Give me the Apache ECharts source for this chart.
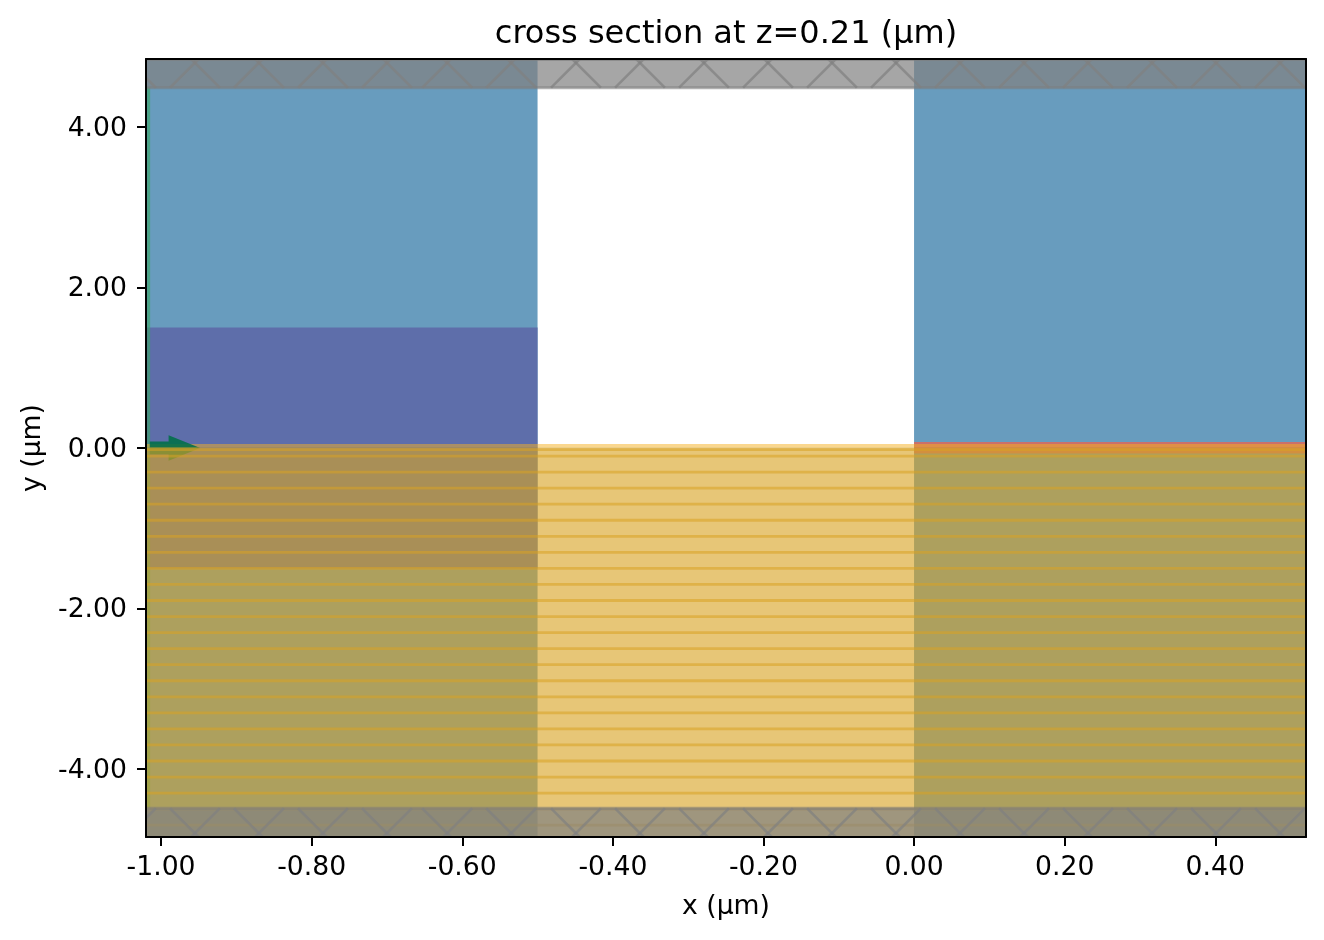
<!DOCTYPE html>
<html><head><meta charset="utf-8">
<style>html,body{margin:0;padding:0;background:#fff}#c{width:1324px;height:940px}</style>
<script src="https://cdn.jsdelivr.net/npm/echarts@6/dist/echarts.min.js"></script>
</head><body><div id="c"></div>
<script>
const xMin = -1.02, xMax = 0.5205, yMin = -4.847, yMax = 4.847;
const xTicks = [-1.0, -0.8, -0.6, -0.4, -0.2, 0, 0.2, 0.4];
const yTicks = [-4, -2, 0, 2, 4];
// Regions as [x0, x1, y0, y1] in µm
const claddingRegions = [[-1.02, -0.5, -4.85, 4.85], [0, 0.5205, -4.85, 4.85]];
const slabRegions = [[-1.02, -0.5, -1.5, 1.5]];
const metalRegions = [[0, 0.5205, -0.07, 0.075]];
const sourceRegions = [[-1.0185, -1.0145, -4.5, 4.5]];
const coatingRegions = [[-1.02, 0.5205, -4.85, 0.01]];
const coatingTopRegions = [[-1.02, 0.5205, 0.01, 0.05]];
const pmlRegions = [[-1.02, 0.5205, 4.49, 4.85], [-1.02, 0.5205, -4.85, -4.49]];
const layerLines = [-0.02, -0.1, -0.3, -0.5, -0.7, -0.9, -1.1, -1.3, -1.5, -1.7, -1.9, -2.1, -2.3, -2.5, -2.7, -2.9, -3.1, -3.3, -3.5, -3.7, -3.9, -4.1, -4.3, -4.5, -4.7];
const pmlEdges = [4.49, 4.84, -4.49];
const arrowX = [-1.015, -0.99, -0.99, -0.948, -0.99, -0.99, -1.015];
const arrowY = [0.08, 0.08, 0.16, 0, -0.16, -0.08, -0.08];
const hatchX = [-1.04, -0.955, -0.87, -0.785, -0.70, -0.62, -0.535, -0.449, -0.364, -0.279, -0.194, -0.109, -0.024, 0.061, 0.146, 0.231, 0.316, 0.401, 0.486, 0.571];
const hatchRows = [[4.8, 4.847, 4.49], [-4.8, -4.847, -4.49]];

const FONT = 'DejaVu Sans';
const pxRatio = 80.25 / 753;

function rectSeries(name, data, color, opacity, z) {
  return {
    type: 'custom', name, z, clip: true, silent: true,
    coordinateSystem: 'cartesian2d', data,
    encode: { x: [0, 1], y: [2, 3] },
    renderItem(params, api) {
      const a = api.coord([api.value(0), api.value(3)]);
      const b = api.coord([api.value(1), api.value(2)]);
      return { type: 'rect', shape: { x: a[0], y: a[1], width: b[0] - a[0], height: b[1] - a[1] },
        style: { fill: color, opacity } };
    }
  };
}
function hLineSeries(name, data, color, opacity, width, z) {
  return {
    type: 'custom', name, z, clip: true, silent: true,
    coordinateSystem: 'cartesian2d', data: data.map(v => [v]),
    encode: { y: 0 },
    renderItem(params, api) {
      const a = api.coord([xMin, api.value(0)]);
      const b = api.coord([xMax, api.value(0)]);
      return { type: 'line', shape: { x1: a[0], y1: a[1], x2: b[0], y2: b[1] },
        style: { stroke: color, opacity, lineWidth: width } };
    }
  };
}
const hatchData = [];
hatchRows.forEach(r => hatchX.forEach(x => hatchData.push([x, r[0], r[1], r[2]])));
const arrowSeries = {
  type: 'custom', name: 'source arrow', z: 4, clip: true, silent: true,
  coordinateSystem: 'cartesian2d', data: arrowX.map((x, i) => [x, arrowY[i]]),
  encode: { x: 0, y: 1 },
  renderItem(params, api) {
    if (params.dataIndex !== 0) return null;
    const points = arrowX.map((x, i) => api.coord([x, arrowY[i]]));
    return { type: 'polygon', shape: { points }, style: { fill: 'rgb(0,112,72)', opacity: 0.88 } };
  }
};
const hatchSeries = {
  type: 'custom', name: 'pml hatch', z: 9, clip: true, silent: true,
  coordinateSystem: 'cartesian2d', data: hatchData,
  encode: { x: 0, y: 1 },
  renderItem(params, api) {
    const x = api.value(0), y = api.value(1), yA = api.value(2), yB = api.value(3);
    const dA = Math.abs(yA - y) * pxRatio, dB = Math.abs(yB - y) * pxRatio;
    const p = (u, v) => api.coord([u, v]);
    const segs = [[p(x - dA, yA), p(x + dB, yB)], [p(x + dA, yA), p(x - dB, yB)]];
    return { type: 'group', children: segs.map(s => ({
      type: 'line', shape: { x1: s[0][0], y1: s[0][1], x2: s[1][0], y2: s[1][1] },
      style: { stroke: 'rgb(128,128,128)', lineWidth: 2.6, opacity: 0.7 } })) };
  }
};
const axisText = { color: '#000', fontFamily: FONT, fontSize: 26.67 };
const chart = echarts.init(document.getElementById('c'), null, { renderer: 'canvas' });
chart.setOption({
  animation: false,
  backgroundColor: '#fff',
  title: { text: 'cross section at z=0.21 (µm)', left: 721, top: 14, textAlign: 'center',
    textStyle: { color: '#000', fontFamily: FONT, fontSize: 32, fontWeight: 'normal' } },
  grid: { left: 146, top: 59, width: 1160, height: 778, containLabel: false },
  xAxis: [
    { type: 'value', min: xMin, max: xMax, position: 'bottom', z: 20,
      name: 'x (µm)', nameLocation: 'middle', nameGap: 57,
      nameTextStyle: axisText, splitLine: { show: false },
      axisLine: { show: true, onZero: false, lineStyle: { color: '#000', width: 2 } },
      axisTick: { show: true, length: 9, lineStyle: { color: '#000', width: 2 }, customValues: xTicks },
      axisLabel: { ...axisText, margin: 18, customValues: xTicks, formatter: v => v.toFixed(2) } },
    { type: 'value', min: xMin, max: xMax, position: 'top', z: 20,
      splitLine: { show: false }, axisTick: { show: false }, axisLabel: { show: false },
      axisLine: { show: true, onZero: false, lineStyle: { color: '#000', width: 2 } } }
  ],
  yAxis: [
    { type: 'value', min: yMin, max: yMax, position: 'left', z: 20,
      name: 'y (µm)', nameLocation: 'middle', nameGap: 99,
      nameTextStyle: axisText, splitLine: { show: false },
      axisLine: { show: true, onZero: false, lineStyle: { color: '#000', width: 2 } },
      axisTick: { show: true, length: 9, lineStyle: { color: '#000', width: 2 }, customValues: yTicks },
      axisLabel: { ...axisText, margin: 19, customValues: yTicks,
        formatter: v => '{a|' + v.toFixed(2) + '}',
        rich: { a: { ...axisText, padding: [4, 0, 0, 0] } } } },
    { type: 'value', min: yMin, max: yMax, position: 'right', z: 20,
      splitLine: { show: false }, axisTick: { show: false }, axisLabel: { show: false },
      axisLine: { show: true, onZero: false, lineStyle: { color: '#000', width: 2 } } }
  ],
  series: [
    rectSeries('cladding', claddingRegions, '#689cbe', 1, 1),
    rectSeries('slab', slabRegions, '#5e6eaa', 1, 2),
    rectSeries('metal', metalRegions, '#f0604a', 0.72, 3),
    rectSeries('source', sourceRegions, '#38a860', 0.6, 3),
    rectSeries('coating top', coatingTopRegions, '#f5b020', 0.5, 3.5),
    arrowSeries,
    rectSeries('coating', coatingRegions, '#d8a323', 0.62, 5),
    hLineSeries('layers', layerLines, '#d8a323', 0.55, 2.8, 6),
    rectSeries('pml', pmlRegions, '#828282', 0.71, 8),
    hLineSeries('pml edges', pmlEdges, '#7d7d7d', 0.6, 3, 9),
    hatchSeries
  ]
});
</script></body></html>
